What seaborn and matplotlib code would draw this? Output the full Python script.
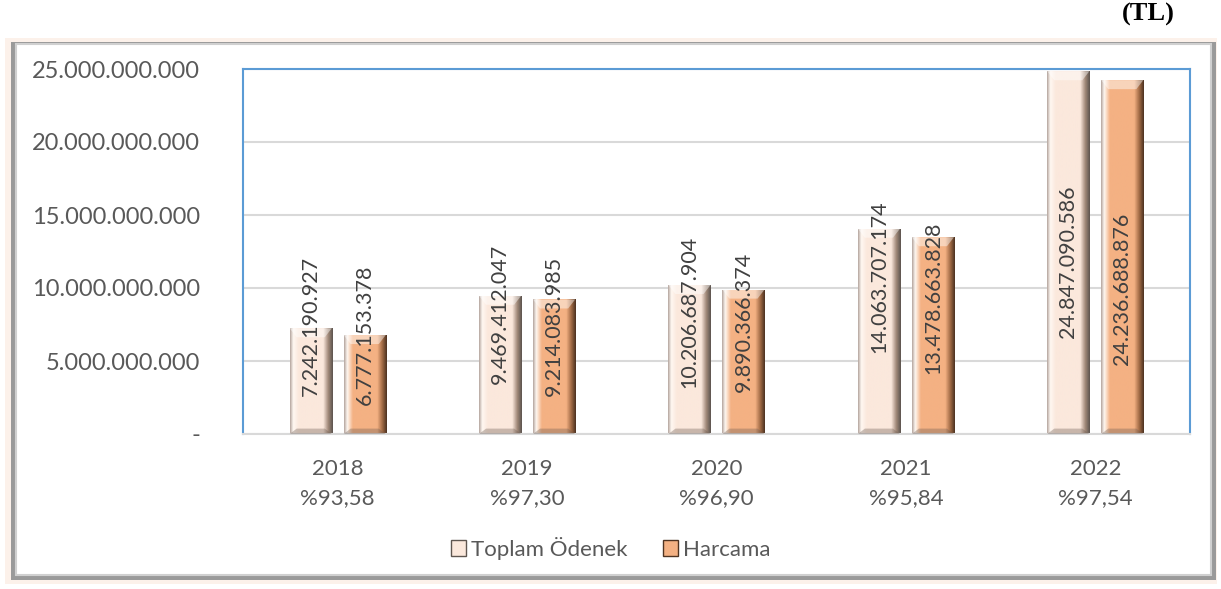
import numpy as np
import pandas as pd
import seaborn as sns
import matplotlib.pyplot as plt
from matplotlib.patches import Rectangle, Patch, Polygon
from matplotlib.colors import LinearSegmentedColormap

# veriler
yillar = ['2018', '2019', '2020', '2021', '2022']
oranlar = ['%93,58', '%97,30', '%96,90', '%95,84', '%97,54']
toplam_odenek = [7242190927, 9469412047, 10206687904, 14063707174, 24847090586]
harcama = [6777153378, 9214083985, 9890366374, 13478663828, 24236688876]
seriler = ['Toplam Ödenek', 'Harcama']
y_ticks = [0, 5e9, 10e9, 15e9, 20e9, 25e9]

# etiketlerin dikey merkezleri (grafikteki elle yerlestirilmis konumlar)
etiket_merkez = [[7.40e9, 8.22e9, 8.36e9, 10.75e9, 11.78e9],
                 [6.78e9, 7.40e9, 7.67e9, 9.32e9, 9.93e9]]


def nokta(v):
    return f'{int(v):,}'.replace(',', '.')


df = pd.DataFrame({
    'kategori': [f'{y}\n{o}' for y, o in zip(yillar, oranlar)] * 2,
    'seri': [seriler[0]] * 5 + [seriler[1]] * 5,
    'deger': toplam_odenek + harcama,
})

sns.set_style('white')
plt.rcParams['font.family'] = ['Lato', 'DejaVu Sans']
renkler = ['#FBE8DC', '#F4B183']
koyu = ['#5f5650', '#4f3422']
metin = '#595959'

fig = plt.figure(figsize=(12.21, 5.89), dpi=100)

# dis cerceve
fig.add_artist(Rectangle((0.004, 0.008), 0.993, 0.927, transform=fig.transFigure,
                         facecolor='#fbe9dc', edgecolor='none', alpha=0.6, zorder=-10))
fig.add_artist(Rectangle((0.009, 0.016), 0.987, 0.913, transform=fig.transFigure,
                         facecolor='#9a9a9a', edgecolor='none', zorder=-9))
fig.add_artist(Rectangle((0.013, 0.024), 0.979, 0.901, transform=fig.transFigure,
                         facecolor='white', edgecolor='#d0d0d0', lw=1.5, zorder=-8))

ax = fig.add_axes([243 / 1221, 1 - 434 / 589, 947 / 1221, 365 / 589])
sns.barplot(data=df, x='kategori', y='deger', hue='seri', hue_order=seriler,
            palette=renkler, width=0.57, gap=0.22, legend=False, ax=ax,
            saturation=1, edgecolor='none')

ax.set_xlim(-0.5, 4.5)
ax.set_ylim(0, 25e9)

px_x = 5 / 947
px_y = 25e9 / 365
for i, cont in enumerate(ax.containers):
    cmap = LinearSegmentedColormap.from_list(
        f'g{i}', [(0, '#b8aaa2'), (0.07, '#fff8f2'), (0.2, renkler[i]), (0.78, renkler[i]),
                  (0.9, '#a08878' if i == 0 else '#a06a45'), (1, koyu[i])])
    grad = np.linspace(0, 1, 64).reshape(1, -1)
    for j, bar in enumerate(cont.patches):
        x0, w, h = bar.get_x(), bar.get_width(), bar.get_height()
        bar.set_facecolor('none')
        im = ax.imshow(grad, extent=(x0, x0 + w, 0, h), aspect='auto', cmap=cmap,
                       zorder=2, interpolation='bilinear')
        im.set_clip_path(bar)
        dx, dy = 7 * px_x, 9 * px_y
        ax.add_patch(Polygon([(x0, h), (x0 + w, h), (x0 + w - dx, h - dy), (x0 + dx, h - dy)],
                             facecolor='white', alpha=0.45, edgecolor='none', zorder=3))
        ax.add_patch(Polygon([(x0, 0), (x0 + w, 0), (x0 + w - dx, dy * 0.6), (x0 + dx, dy * 0.6)],
                             facecolor='#6b5a50', alpha=0.35, edgecolor='none', zorder=3))
        vals = toplam_odenek if i == 0 else harcama
        ax.text(x0 + w / 2, etiket_merkez[i][j], nokta(vals[j]), rotation=90,
                ha='center', va='center', fontsize=15.5, color='#404040', zorder=4)

ax.set_yticks(y_ticks)
ax.set_yticklabels(['-'] + [nokta(v) for v in y_ticks[1:]])
ax.yaxis.grid(True, color='#d9d9d9', lw=1.5, zorder=0)
ax.set_axisbelow(True)
ax.tick_params(axis='y', length=0, pad=31, labelsize=17, labelcolor=metin)
ax.tick_params(axis='x', length=0, pad=18, labelsize=16, labelcolor=metin)
for t in ax.get_xticklabels():
    t.set_linespacing(1.55)
ax.set_xlabel('')
ax.set_ylabel('')
for s in ['top', 'left', 'right']:
    ax.spines[s].set_color('#5B9BD5')
    ax.spines[s].set_linewidth(1.5)
ax.spines['bottom'].set_color('#d9d9d9')
ax.spines['bottom'].set_linewidth(1.5)

tutamaklar = [Patch(facecolor=renkler[k], edgecolor=koyu[k], lw=1) for k in range(2)]
fig.legend(tutamaklar, seriler, loc='center', bbox_to_anchor=(0.5, 1 - 548 / 589),
           ncol=2, frameon=False, fontsize=16, handlelength=0.7, handleheight=0.7,
           handletextpad=0.2, columnspacing=1.6, labelcolor=metin)

fig.text(1148 / 1221, 1 - 14 / 589, '(TL)', family='Liberation Serif', weight='bold',
         fontsize=19, ha='center', va='center', color='black')

fig.savefig('out.png', dpi=100)
